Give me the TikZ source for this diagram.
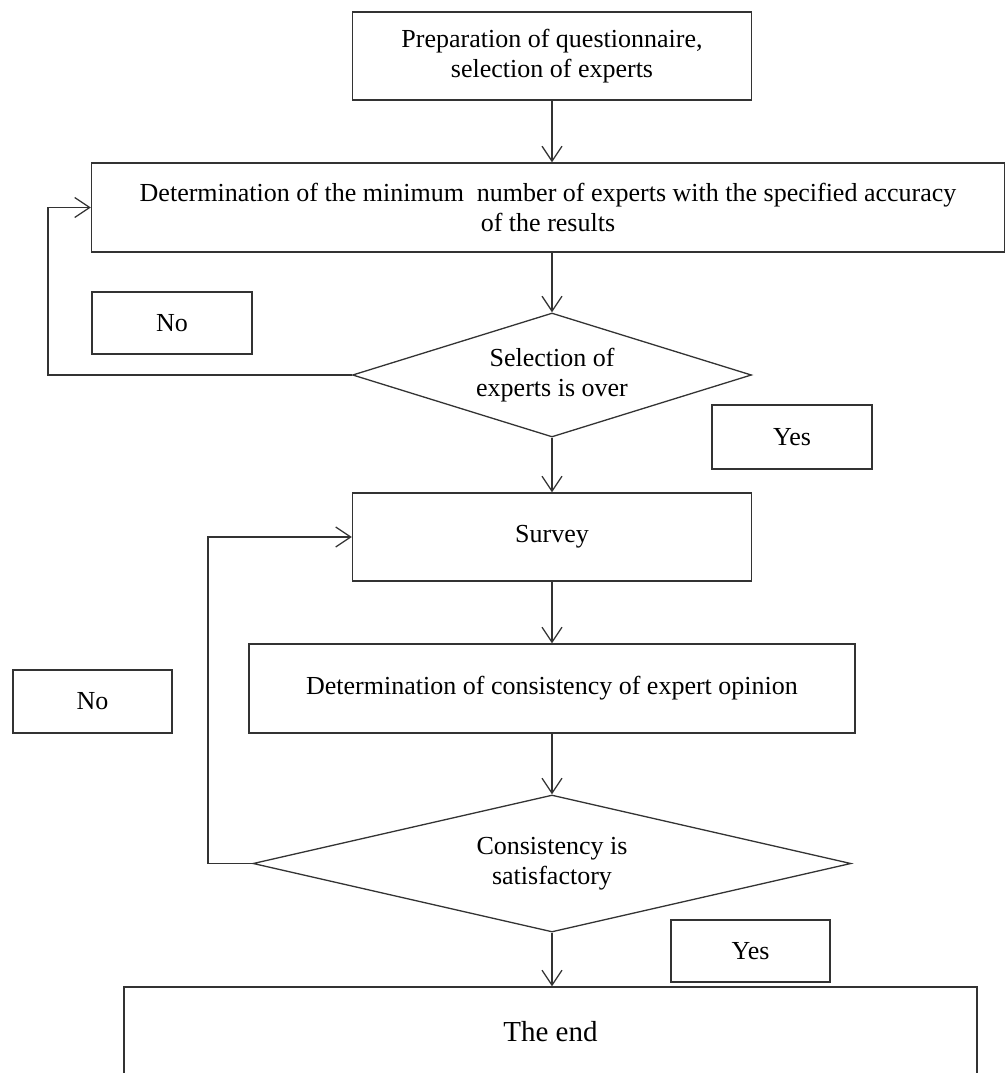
\documentclass[tikz,border=0pt]{standalone}
\usepackage{fontspec}
\setmainfont{Liberation Serif}
\usetikzlibrary{shapes.geometric,arrows.meta}
\begin{document}
\begin{tikzpicture}[x=1pt,y=-1pt,
  line width=1.3pt,
  every node/.style={draw=black!80,line width=1.3pt,inner sep=0pt,align=center,font=\fontsize{26}{30}\selectfont},
  box/.style={rectangle},
  dia/.style={diamond},
  arr/.style={draw=black!80,-{Straight Barb[length=15pt,width=20pt,line width=1.3pt]}},
  ln/.style={draw=black!80}]
\useasboundingbox (0,0) rectangle (1007,1073);
\clip (0,0) rectangle (1007,1073);
\node[box,minimum width=399,minimum height=88] (b1) at (552,56) {Preparation of questionnaire,\\selection of experts};
\node[box,minimum width=913,minimum height=89] (b2) at (548,207.5) {Determination of the minimum\ \ number of experts with the specified accuracy\\of the results};
\node[dia,aspect=3.2,minimum width=399,minimum height=124] (d1) at (552,375) {Selection of\\experts is over};
\node[box,minimum width=160,minimum height=62] (no1) at (172,323) {No};
\node[box,minimum width=160,minimum height=64] (yes1) at (792,437) {Yes};
\node[box,minimum width=399,minimum height=88] (sv) at (552,537) {Survey};
\node[box,minimum width=606,minimum height=89] (b3) at (552,688.5) {Determination of consistency of expert opinion};
\node[box,minimum width=159,minimum height=63] (no2) at (92.5,701.5) {No};
\node[dia,aspect=4.4,minimum width=598,minimum height=137] (d2) at (552,863.5) {Consistency is\\satisfactory};
\node[box,minimum width=159,minimum height=62] (yes2) at (750.5,951) {Yes};
\node[box,minimum width=853,minimum height=90,font=\fontsize{29}{34}\selectfont] (end) at (550.5,1032) {The end};
\coordinate (f1) at (48,300);
\coordinate (f2) at (208,700);
\draw[arr] (b1.south) -- (b1.south |- b2.north);
\draw[arr] (b1.south |- b2.south) -- (d1.north);
\draw[arr] (d1.south) -- (sv.north);
\draw[arr] (sv.south) -- (b3.north);
\draw[arr] (b3.south) -- (d2.north);
\draw[arr] (d2.south) -- (d2.south |- end.north);
\draw[arr] (d1.west) -| (f1) |- (b2.west);
\draw[arr] (d2.west) -| (f2) |- (sv.west);
\end{tikzpicture}
\end{document}
